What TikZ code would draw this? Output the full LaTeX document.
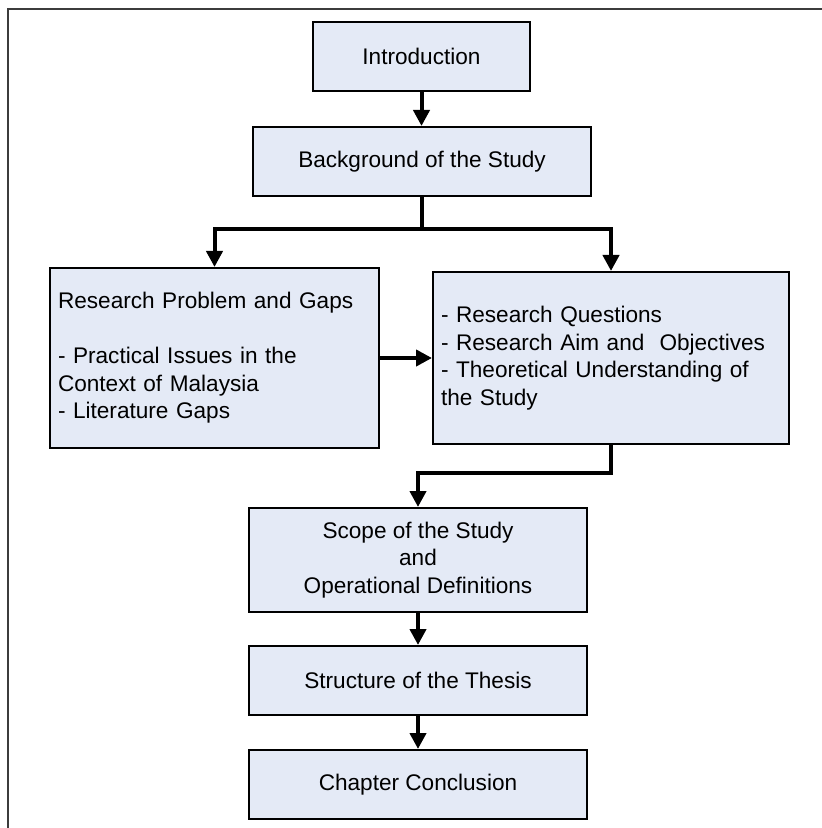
\documentclass[tikz,border=0pt]{standalone}
\usepackage{fontspec}
\setmainfont{Liberation Sans}
\usetikzlibrary{arrows.meta}
\definecolor{boxfill}{RGB}{228,234,246}
\definecolor{framecol}{RGB}{60,60,60}
\begin{document}
\begin{tikzpicture}[x=0.5pt,y=-0.5pt,
  box/.style={draw=black, line width=1pt, fill=boxfill, inner sep=0pt,
    font=\fontsize{11.3pt}{13.75pt}\selectfont, align=center},
  conn/.style={line width=2pt, line join=miter, -{Triangle[length=8pt,width=8pt]}},
  plainline/.style={line width=2pt}]
\useasboundingbox (0,0) rectangle (822,828);
\draw[framecol, line width=0.6pt] (822,9) -- (8,9) -- (8,828);

\node[box, minimum width=108.5pt, minimum height=34.5pt] (intro) at (421.5,56.5) {Introduction};
\node[box, minimum width=169pt, minimum height=34.5pt] (bg) at (422,161.5) {Background of the Study};
\node[box, minimum width=164.5pt, minimum height=90pt, text width=156.5pt, align=left] (prob) at (214.5,358)
  {Research Problem and Gaps\\[13.75pt]- Practical Issues in the\\Context of Malaysia\\- Literature Gaps};
\node[box, minimum width=178pt, minimum height=86pt, text width=170pt, align=left] (rq) at (611,358)
  {- Research Questions\\- Research Aim and~ Objectives\\- Theoretical Understanding of\\the Study};
\node[box, minimum width=169pt, minimum height=52pt] (scope) at (418,560)
  {Scope of the Study\\and\\Operational Definitions};
\node[box, minimum width=169pt, minimum height=34.5pt] (struct) at (418,680.5) {Structure of the Thesis};
\node[box, minimum width=169pt, minimum height=34.5pt] (concl) at (418,784.5) {Chapter Conclusion};

\coordinate (split) at (422,229);
\coordinate (turn) at (611,473);

\draw[conn] (intro.south) -- (intro.south |- bg.north);
\draw[plainline] (bg.south) -- (split);
\draw[conn] (split) -| (prob.north);
\draw[conn] (split) -| (rq.north);
\draw[conn] (prob.east) -- (rq.west);
\draw[conn] (rq.south) -- (turn) -| (scope.north);
\draw[conn] (scope) -- (struct);
\draw[conn] (struct) -- (concl);
\end{tikzpicture}
\end{document}
